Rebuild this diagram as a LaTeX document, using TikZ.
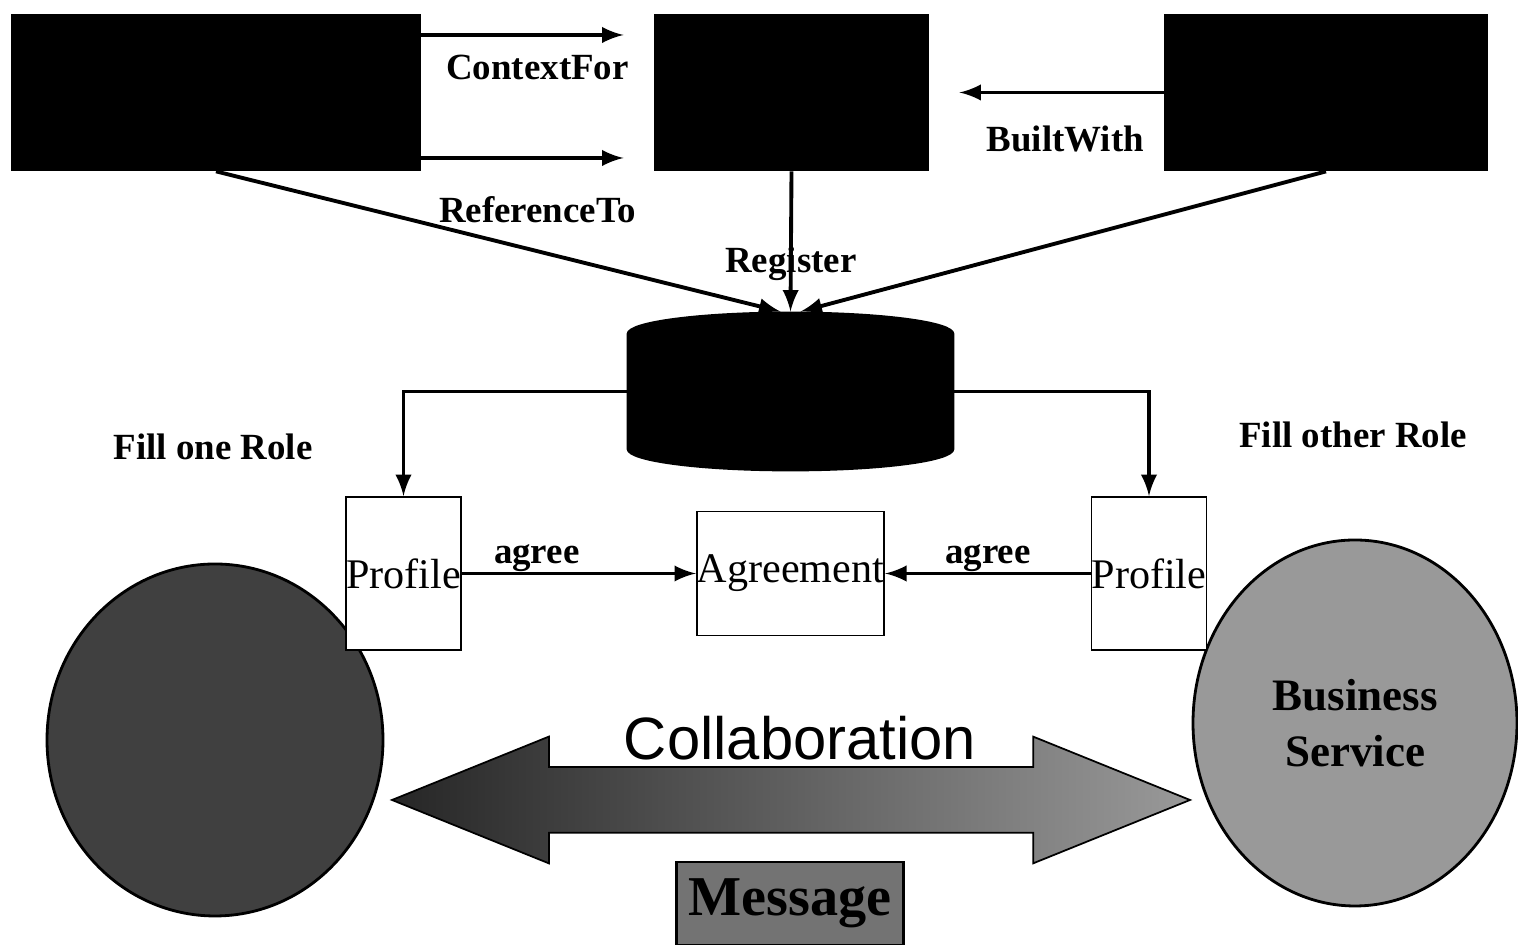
\documentclass[tikz,border=0pt]{standalone}
\usepackage{fontspec}
\setmainfont{Liberation Serif}
\newfontfamily\arialfont{Liberation Sans}
\usetikzlibrary{shapes.geometric,shapes.arrows}
\tikzset{
    dark box/.style = {
        shape = rectangle,
        draw  = black,
        fill  = black,
        minimum height=1.55cm
    },
    plain box/.style = {
        shape = rectangle,
        align = center,
        draw  = black,
        fill  = white,
        line width=0.5pt,
        inner sep = 0pt,
        font  = \fontsize{12}{14}\selectfont
    },
    rel label/.style = {
        font = \fontsize{10.5}{12}\selectfont\bfseries,
        inner sep = 1pt
    },
    service/.style = {
        shape = ellipse,
        draw  = black,
        fill  = #1,
        align = center,
        font  = \fontsize{12.8}{16}\selectfont\bfseries
    },
    link/.style = {
        ->,
        line width=1.1pt
    }
}

\begin{document}
\begin{tikzpicture}[thick, >=latex]
      \useasboundingbox (0,0) rectangle (15.18,9.45);

      % top row
      \node (ctx) at (2.16,8.525) [dark box, minimum width=4.08cm] {};
      \node (reg) at (7.915,8.525) [dark box, minimum width=2.73cm] {};
      \node (tool) at (13.26,8.525) [dark box, minimum width=3.22cm] {};

      \draw [link, shorten >=3mm] ([yshift=5.75mm]ctx.east) -- ([yshift=5.75mm]reg.west)
            node [rel label, midway, below=1.5mm] {ContextFor};
      \draw [link, shorten >=3mm] ([yshift=-6.55mm]ctx.east) -- ([yshift=-6.55mm]reg.west)
            node [rel label, midway, below=3.3mm] {ReferenceTo};
      \draw [link, shorten >=3mm] (tool.west) -- (reg.east)
            node [rel label, pos=0.42, below=2.8mm] {BuiltWith};

      % repository
      \node (repo) at (7.905,5.535) [cylinder, shape border rotate=90, draw, fill=black,
            anchor=shape center, minimum width=3.25cm, minimum height=1.57cm, aspect=1.8] {};

      \draw [link] (ctx.south) -- ([xshift=-1mm]repo.north);
      \draw [link] (reg.south) -- (repo.north) node [rel label, pos=0.66] {Register};
      \draw [link] (tool.south) -- ([xshift=1mm]repo.north);

      \node (one) at (2.13,4.98) [rel label] {Fill one Role};
      \node (other) at (13.53,5.10) [rel label] {Fill other Role};

      % services
      \node (left svc) at (2.15,2.05) [service=black!75, minimum width=3.36cm, minimum height=3.52cm] {};
      \node (right svc) at (13.55,2.22) [service=black!40, minimum width=3.24cm, minimum height=3.66cm] {Business\\Service};

      % profiles and agreement
      \node (pl) at (4.035,3.715) [plain box, minimum width=1.13cm, minimum height=1.53cm] {Profile};
      \node (agr) at (7.905,3.715) [plain box, minimum width=1.85cm, minimum height=1.24cm] {Agreement};
      \node (pr) at (11.49,3.715) [plain box, minimum width=1.14cm, minimum height=1.53cm] {Profile};

      \draw [link] (repo.west |- repo.shape center) -| (pl.north);
      \draw [link] (repo.east |- repo.shape center) -| (pr.north);
      \draw [link] (pl.east) -- (agr.west) node [rel label, pos=0.32, above=-1pt] {agree};
      \draw [link] (pr.west) -- (agr.east) node [rel label, midway, above=-1pt] {agree};

      % collaboration
      \node (flow) at (7.91,1.45) [double arrow, draw=black, line width=0.5pt,
            left color=black!85, right color=black!40, inner xsep=0pt, inner ysep=0.32cm,
            double arrow head extend=0.305cm, double arrow tip angle=44,
            minimum height=7.98cm] {};
      \node (collab) at (8.00,2.07) [font=\arialfont\fontsize{17}{20}\selectfont] {Collaboration};
      \node (msg) at (7.90,0.415) [rectangle, draw, fill=black!55, minimum width=2.26cm,
            minimum height=0.83cm, font=\fontsize{16}{18}\selectfont\bfseries] {Message};
\end{tikzpicture}
\end{document}
